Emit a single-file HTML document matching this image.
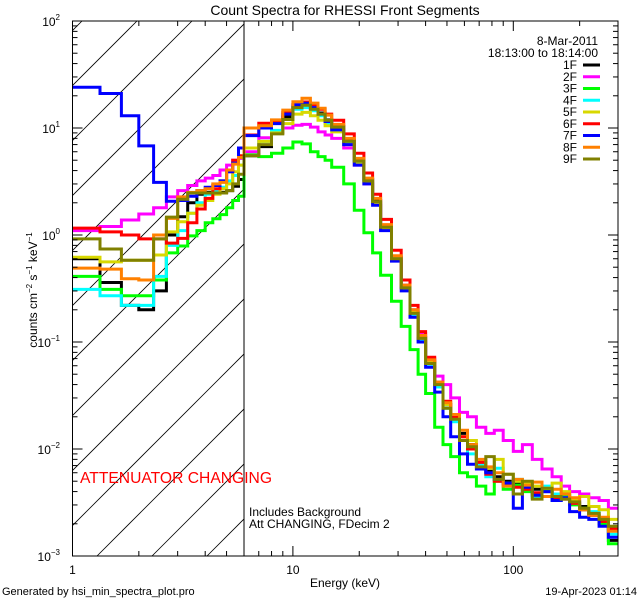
<!DOCTYPE html>
<html><head><meta charset="utf-8"><style>
html,body{margin:0;padding:0;background:#fff;}
svg{display:block;font-family:"Liberation Sans",sans-serif;}
</style></head><body>
<svg id="chart" width="640" height="600" viewBox="0 0 640 600" xmlns="http://www.w3.org/2000/svg">
<rect width="640" height="600" fill="#fff"/>
<defs><clipPath id="plotclip"><rect x="72.5" y="21" width="545.5" height="535"/></clipPath>
<clipPath id="hatchclip"><rect x="72.5" y="21" width="171.5" height="535"/></clipPath></defs>
<text x="345" y="15" font-size="14" text-anchor="middle">Count Spectra for RHESSI Front Segments</text>
<g id="hatch" clip-path="url(#hatchclip)"></g>
<g id="series" clip-path="url(#plotclip)"></g>
<g id="axes"></g>
<text transform="translate(37,290) rotate(-90)" font-size="12" text-anchor="middle">counts cm<tspan font-size="8" dy="-5">−2</tspan><tspan dy="5"> s</tspan><tspan font-size="8" dy="-5">−1</tspan><tspan dy="5"> keV</tspan><tspan font-size="8" dy="-5">−1</tspan></text>
<text x="345" y="587" font-size="12" text-anchor="middle">Energy (keV)</text>
<text x="2" y="595" font-size="11">Generated by hsi_min_spectra_plot.pro</text>
<text x="637" y="595" font-size="11" text-anchor="end">19-Apr-2023 01:14</text>
<text x="80" y="483" font-size="16" fill="#ff0000" textLength="192" lengthAdjust="spacingAndGlyphs">ATTENUATOR CHANGING</text>
<text x="249" y="516" font-size="12">Includes Background</text>
<text x="249" y="528" font-size="12">Att CHANGING, FDecim 2</text>
<text x="598" y="45" font-size="12" text-anchor="end">8-Mar-2011</text>
<text x="598" y="57" font-size="12" text-anchor="end">18:13:00 to 18:14:00</text>
<g id="legend"></g>
</svg>
<script>
const edges=[1,1.333,1.667,2,2.333,2.667,3,3.333,3.667,4,4.333,4.667,5,5.333,5.667,6,7,8,9,10,11,12,13,14,15,17,19,21,23,25,28,31,34,37,40,44,48,52,57,62,68,75,82,90,100,110,122,135,150,165,180,200,220,245,270,298];
const names=["1F","2F","3F","4F","5F","6F","7F","8F","9F"];
const colors=["#000000","#ff00ff","#00ff00","#00ffff","#d8d800","#ff0000","#0000ff","#ff8000","#808000"];
const s1F=[0.6,0.36,0.22,0.2,0.3,1.0,1.48,2.0,2.4,2.5,2.5,2.5,2.6,2.85,3.3,5.5,6.7,9,12.7,16,16.7,15.3,13.8,11.9,10.3,7.6,5.0,3.3,2.1,1.2,0.62,0.33,0.19,0.11,0.065,0.04,0.026,0.02,0.014,0.011,0.0075,0.0062,0.0055,0.005,0.0047,0.0045,0.0042,0.004,0.0038,0.0037,0.0032,0.0029,0.0025,0.0021,0.0014];
const s2F=[1.1,1.2,1.38,1.57,1.8,2.27,2.6,2.9,3.2,3.4,3.6,4.05,4.5,5.0,5.2,6.0,8.1,9.0,10,10.6,10.8,10.2,9.2,8.6,8.0,6.5,4.5,3.0,2.0,1.15,0.6,0.34,0.2,0.12,0.07,0.048,0.04,0.03,0.022,0.02,0.016,0.014,0.015,0.012,0.0095,0.011,0.008,0.0065,0.0055,0.0045,0.004,0.0038,0.0035,0.0033,0.0028];
const s3F=[0.41,0.31,0.27,0.27,0.38,0.68,0.79,0.98,1.1,1.3,1.42,1.55,1.8,2.1,2.3,5.6,5.4,5.8,6.5,7.4,7.1,6.0,5.4,5.0,4.3,3.0,1.7,1.05,0.68,0.42,0.24,0.14,0.085,0.05,0.033,0.016,0.011,0.0085,0.006,0.0055,0.0045,0.0038,0.005,0.0042,0.0046,0.004,0.0035,0.0042,0.0033,0.0037,0.003,0.0028,0.0024,0.002,0.0013];
const s4F=[0.31,0.27,0.22,0.22,0.41,0.8,1.1,1.6,2.0,2.4,2.6,2.8,3.2,3.6,4.5,6.5,7.5,9.5,12,15,15.5,14.5,13,11,10,7.3,4.8,3.2,2.0,1.15,0.6,0.32,0.18,0.105,0.062,0.038,0.024,0.018,0.012,0.009,0.0072,0.0055,0.0066,0.0048,0.0052,0.0043,0.0036,0.0045,0.0038,0.0035,0.0031,0.0027,0.0026,0.0022,0.0016];
const s5F=[0.62,0.56,0.58,0.58,0.65,1.07,1.33,1.6,1.9,2.1,2.4,2.7,3.0,3.9,4.5,6.5,7.5,9,11,13.5,14,13,11.8,10.5,9.2,7.0,4.6,3.1,2.0,1.15,0.6,0.32,0.19,0.11,0.066,0.042,0.026,0.02,0.013,0.012,0.0078,0.0066,0.008,0.0058,0.005,0.0048,0.0045,0.0043,0.0048,0.004,0.0034,0.0036,0.0029,0.0027,0.0022];
const s6F=[1.16,1.07,1.0,0.92,0.92,0.84,0.93,1.3,1.75,2.2,2.7,3.2,3.9,5.0,5.5,8.6,11.1,11.5,14,16.5,17.5,16.5,15,13.5,11.8,8.8,5.8,3.8,2.4,1.4,0.72,0.38,0.22,0.125,0.072,0.042,0.028,0.02,0.013,0.01,0.0075,0.0058,0.005,0.0047,0.0044,0.0042,0.0039,0.0036,0.0035,0.0034,0.0031,0.0027,0.0024,0.0021,0.0018];
const s7F=[24,21,13,6.8,3.1,2.07,2.1,2.3,2.6,2.8,2.9,3.2,3.9,4.7,6.5,8.5,10,11,13.5,16.5,17,15.5,13.5,11.5,9.6,7.0,4.5,3.0,1.9,1.1,0.57,0.3,0.17,0.1,0.058,0.034,0.02,0.013,0.009,0.0072,0.0065,0.006,0.0052,0.0048,0.0028,0.0044,0.0037,0.004,0.0033,0.0035,0.0026,0.0023,0.0022,0.0019,0.0015];
const s8F=[0.49,0.48,0.39,0.38,1.0,1.43,2.27,2.5,2.6,2.7,3.0,3.1,4.05,4.6,5.3,10,10.5,11.9,14.7,17.6,19,17.1,15.3,13.2,10.8,8.0,5.2,3.4,2.2,1.25,0.64,0.34,0.2,0.115,0.068,0.042,0.027,0.021,0.015,0.011,0.008,0.0068,0.006,0.0045,0.0052,0.0046,0.0049,0.0036,0.0042,0.0038,0.0035,0.0027,0.0024,0.0023,0.0017];
const s9F=[0.92,0.74,0.58,0.58,0.92,1.47,2.16,2.47,2.47,2.47,2.47,2.47,2.6,3.0,3.7,5.5,7.0,8.8,12,15.5,16.3,15,13.5,11.8,10.2,7.5,4.9,3.2,2.05,1.18,0.6,0.32,0.185,0.108,0.063,0.04,0.024,0.019,0.012,0.0105,0.0068,0.0085,0.0052,0.0058,0.0038,0.005,0.0034,0.0043,0.0036,0.0034,0.0032,0.0028,0.0025,0.0022,0.0019];
const seriesValues=[s1F,s2F,s3F,s4F,s5F,s6F,s7F,s8F,s9F];
const xTickLabels=["1","10","100"];
const yTickExps=["2","1","0","−1","−2","−3"];
const attenEdge=6;

const NS="http://www.w3.org/2000/svg";
const L=72.5,R=618,T=21,B=556,xDec=220.4,yDec=107;
function xs(e){return L+Math.log10(e)*xDec;}
function ys(v){return T+(2-Math.log10(v))*yDec;}
function mk(tag,attrs,parent){const el=document.createElementNS(NS,tag);for(const k in attrs)el.setAttribute(k,attrs[k]);parent.appendChild(el);return el;}

// hatch
const hatch=document.getElementById('hatch');
for(let k=-3;k<14;k++){const c=158+55*k;
 const ln=mk('line',{x1:c-T,y1:T,x2:c-B,y2:B,stroke:'#000','stroke-width':0.8},hatch);
 
 }

// series
const sg=document.getElementById('series');
seriesValues.forEach((vals,si)=>{
 let d='';
 for(let i=0;i<vals.length;i++){const y=ys(vals[i]).toFixed(1);const x0=xs(edges[i]).toFixed(1),x1=xs(edges[i+1]).toFixed(1);
  d+=(i===0?'M':'L')+x0+','+y+'L'+x1+','+y;}
 const p=mk('path',{d:d,fill:'none',stroke:colors[si],'stroke-width':3,'stroke-linejoin':'miter'},sg);
 
 
});

// axes
const ax=document.getElementById('axes');
const frame=mk('rect',{x:L,y:T,width:R-L,height:B-T,fill:'none',stroke:'#000','stroke-width':1},ax);


const att=mk('line',{x1:xs(attenEdge),y1:T,x2:xs(attenEdge),y2:B,stroke:'#000','stroke-width':1},ax);


for(let dcd=0;dcd<3;dcd++){for(let m=1;m<10;m++){const e=m*Math.pow(10,dcd);if(e>298)continue;const x=xs(e);const len=m===1?10:5;
 mk('line',{x1:x,y1:B,x2:x,y2:B-len,stroke:'#000'},ax);mk('line',{x1:x,y1:T,x2:x,y2:T+len,stroke:'#000'},ax);}
 const t=mk('text',{x:xs(Math.pow(10,dcd)),y:574,'font-size':12,'text-anchor':'middle'},ax);t.textContent=xTickLabels[dcd];
 
 }
for(let p=-3;p<=2;p++){for(let m=1;m<10;m++){if(p===2&&m>1)continue;const y=ys(m*Math.pow(10,p));const len=m===1?10:5;
 mk('line',{x1:L,y1:y,x2:L+len,y2:y,stroke:'#000'},ax);mk('line',{x1:R,y1:y,x2:R-len,y2:y,stroke:'#000'},ax);}
 const t=mk('text',{x:60,y:ys(Math.pow(10,p))+5,'font-size':12,'text-anchor':'end'},ax);t.textContent='10';
 const sp=mk('tspan',{'font-size':8,dy:-6},t);sp.textContent=yTickExps[2-p];
 
 }

// legend
const lg=document.getElementById('legend');
names.forEach((n,i)=>{const y=65+i*11.75;
 const t=mk('text',{x:577,y:y+4,'font-size':12,'text-anchor':'end'},lg);t.textContent=n;
 
 
 const l=mk('line',{x1:583,y1:y,x2:600,y2:y,stroke:colors[i],'stroke-width':3},lg);
 
 });
</script>
</body></html>
